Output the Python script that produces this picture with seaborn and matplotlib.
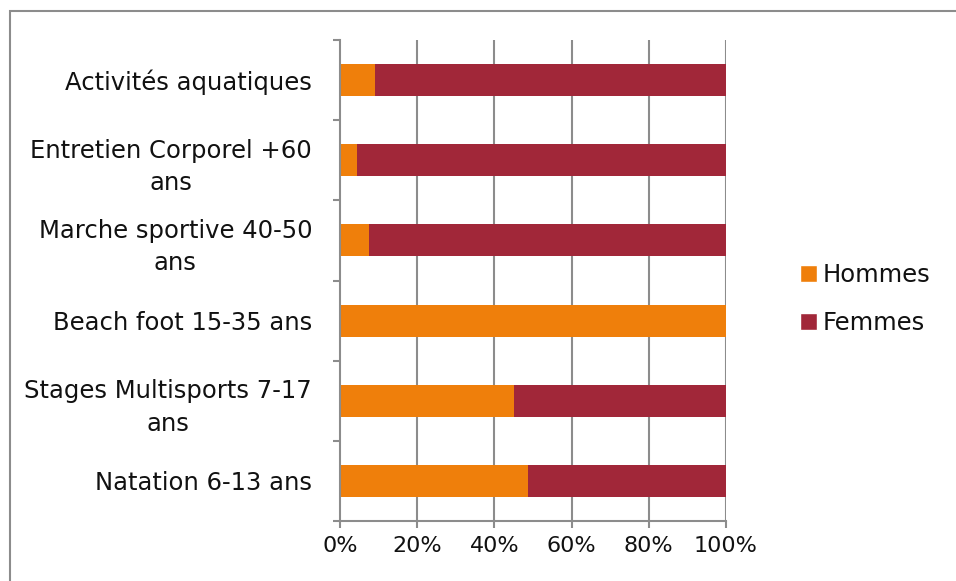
import matplotlib
matplotlib.use("Agg")
import matplotlib.pyplot as plt
import seaborn as sns
import pandas as pd
from matplotlib.patches import Rectangle, Patch
from matplotlib.ticker import FixedLocator, PercentFormatter

# Share of participants by sex for each activity (percent)
categories = [
    "Activités aquatiques",
    "Entretien Corporel +60\nans",
    "Marche sportive 40-50\nans",
    "Beach foot 15-35 ans",
    "Stages Multisports 7-17\nans",
    "Natation 6-13 ans",
]
hommes = [9.1, 4.4, 7.4, 100.0, 45.1, 48.6]
femmes = [90.9, 95.6, 92.6, 0.0, 54.9, 51.4]
xticks = [0, 20, 40, 60, 80, 100]

ORANGE = "#EF7F0B"
RED = "#A12739"
GRID = "#8C8C8C"
FS = 17.5
FS_TICK = 16

sns.set_theme(style="white")
plt.rcParams["font.family"] = ["DejaVu Sans"]

df = pd.DataFrame({"cat": categories, "Hommes": hommes, "Femmes": femmes})
df["total"] = df["Hommes"] + df["Femmes"]

W, H = 956, 581
fig = plt.figure(figsize=(W / 100, H / 100), dpi=100)
ax = fig.add_axes([340 / W, 60 / H, 386 / W, 481 / H])

# stacked bars: full length in Femmes colour, Hommes share drawn on top
sns.barplot(data=df, x="total", y="cat", orient="h", color=RED, width=0.4,
            saturation=1, errorbar=None, linewidth=0, ax=ax, zorder=3)
sns.barplot(data=df, x="Hommes", y="cat", orient="h", color=ORANGE, width=0.4,
            saturation=1, errorbar=None, linewidth=0, ax=ax, zorder=3)

ax.set_xlim(0, 100)
ax.set_ylim(5.5, -0.5)
ax.set_xlabel("")
ax.set_ylabel("")

ax.set_xticks(xticks)
ax.xaxis.set_major_formatter(PercentFormatter(decimals=0))
ax.tick_params(axis="x", which="major", length=5, width=1.5, color=GRID,
               labelsize=FS_TICK, pad=6, bottom=True)

ax.set_yticks(range(len(categories)))
ax.set_yticklabels(categories, fontsize=FS, multialignment="center", linespacing=1.45)
ax.yaxis.set_minor_locator(FixedLocator([i - 0.5 for i in range(len(categories) + 1)]))
ax.tick_params(axis="y", which="major", length=0, pad=20)
ax.tick_params(axis="y", which="minor", length=5, width=1.5, color=GRID, left=True)

for lab in ax.get_xticklabels() + ax.get_yticklabels():
    lab.set_color("#111111")

ax.grid(False)
for x in xticks[1:]:
    ax.axvline(x, color=GRID, lw=1.5, zorder=1)

for side in ["top", "right"]:
    ax.spines[side].set_visible(False)
for side in ["left", "bottom"]:
    ax.spines[side].set_color(GRID)
    ax.spines[side].set_linewidth(1.5)
    ax.spines[side].set_zorder(4)

handles = [Patch(facecolor=ORANGE, label="Hommes"), Patch(facecolor=RED, label="Femmes")]
leg = fig.legend(handles=handles, loc="center left", bbox_to_anchor=(790 / W, 1 - 299 / H),
                 frameon=False, fontsize=FS, handlelength=0.7, handleheight=0.7,
                 handletextpad=0.25, labelspacing=1.0, borderaxespad=0)
for t in leg.get_texts():
    t.set_color("#111111")

# outer chart frame
fig.patches.append(Rectangle((10 / W, -0.1), 1.2, (H - 11) / H + 0.1,
                             transform=fig.transFigure, fill=False,
                             edgecolor=GRID, lw=1.5))

fig.savefig("out.png", dpi=100)
